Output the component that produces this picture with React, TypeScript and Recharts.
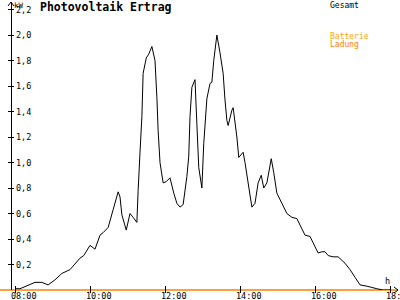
import { LineChart, Line, XAxis, YAxis, Legend, ReferenceLine } from 'recharts'

// minutes after 08:00 and total output in kW
const minutes = [
  0, 8, 32, 43, 53, 64, 75, 88, 104, 110, 120, 128, 136, 141, 149, 157, 165, 168, 171, 178,
  184, 189, 195, 197, 200, 203, 205, 210, 214, 219, 224, 227, 229, 232, 237, 242, 248, 254, 259, 264,
  269, 275, 278, 280, 283, 288, 291, 294, 299, 302, 307, 312, 315, 318, 323, 328, 333, 336, 339, 341,
  347, 349, 355, 358, 365, 368, 373, 379, 384, 389, 394, 398, 403, 410, 414, 419, 427, 435, 443, 451,
  456, 464, 472, 477, 485, 491, 496, 501, 509, 517, 528, 536, 544, 552, 563, 571, 579, 589, 600,
]
const gesamt = [
  0.01, 0.01, 0.06, 0.06, 0.04, 0.08, 0.13, 0.16, 0.25, 0.27, 0.35, 0.32, 0.43, 0.45, 0.49, 0.63, 0.77, 0.73, 0.59, 0.47,
  0.6, 0.57, 0.53, 0.78, 1.08, 1.36, 1.7, 1.82, 1.85, 1.91, 1.8, 1.51, 1.25, 1.0, 0.84, 0.85, 0.88, 0.76, 0.68, 0.65,
  0.67, 0.89, 1.05, 1.36, 1.59, 1.65, 1.3, 0.96, 0.8, 1.15, 1.5, 1.62, 1.63, 1.8, 2.0, 1.86, 1.7, 1.49, 1.33, 1.29,
  1.41, 1.43, 1.2, 1.04, 1.08, 1.0, 0.84, 0.65, 0.68, 0.84, 0.9, 0.8, 0.84, 1.03, 0.92, 0.76, 0.68, 0.6, 0.57, 0.56,
  0.51, 0.43, 0.42, 0.37, 0.29, 0.3, 0.3, 0.27, 0.26, 0.26, 0.21, 0.16, 0.1, 0.04, 0.03, 0.02, 0.01, 0.0, 0.0,
]

// battery charging stays at zero along the whole day
const ladungFrom = -24
const ladungTo = 613
const ladungValue = 0

const xTicks = [0, 120, 240, 360, 480, 600]
const xLabels = ['08:00', '10:00', '12:00', '14:00', '16:00', '18:00']
const yTicks = [0.2, 0.4, 0.6, 0.8, 1.0, 1.2, 1.4, 1.6, 1.8, 2.0, 2.2]

const legendItems = [
  { name: 'Gesamt', color: '#000000', gap: 0 },
  { name: 'Batterie', color: '#ffa500', gap: 23 },
  { name: 'Ladung', color: '#ff8000', gap: 0 },
]

const data = minutes.map((t, i) => ({ t, gesamt: gesamt[i] }))

const FONT = '"DejaVu Sans Mono", monospace'

const XTick = ({ x, y, payload }: any) => (
  <g>
    <line x1={x} x2={x} y1={y - 4} y2={y + 3} stroke="#000" shapeRendering="crispEdges" />
    <text x={x - 4} y={y + 9} fontSize={8.5} fontFamily={FONT} fill="#000">
      {xLabels[xTicks.indexOf(payload.value)]}
    </text>
  </g>
)

const YTick = ({ x, y, payload }: any) => (
  <g>
    <line x1={x - 3} x2={x + 3} y1={y} y2={y} stroke="#000" shapeRendering="crispEdges" />
    <text x={x + 5} y={y + 3} fontSize={8.5} fontFamily={FONT} fill="#000">
      {payload.value.toFixed(1).replace('.', ',')}
    </text>
  </g>
)

const YDecor = ({ viewBox }: any) => {
  const x = (viewBox?.x ?? 10) + (viewBox?.width ?? 1)
  const y = viewBox?.y ?? 2
  return (
    <g>
      <polyline points={`${x - 3},${y + 4} ${x},${y} ${x + 3},${y + 4}`} fill="none" stroke="#000" />
      <text x={x + 3} y={y + 6} fontSize={7.5} fontFamily={FONT} fill="#000">kW</text>
    </g>
  )
}

const XDecor = ({ viewBox }: any) => {
  const x = (viewBox?.x ?? 11) + (viewBox?.width ?? 387)
  const y = viewBox?.y ?? 290
  return (
    <g>
      <polyline points={`${x - 4},${y - 3} ${x},${y} ${x - 4},${y + 3}`} fill="none" stroke="#000" />
      <text x={x - 13} y={y - 6} fontSize={8.5} fontFamily={FONT} fill="#000">h</text>
    </g>
  )
}

const LegendBox = () => (
  <div style={{ fontFamily: FONT, fontSize: 8, lineHeight: '8px' }}>
    {legendItems.map((it) => (
      <div key={it.name} style={{ color: it.color, marginTop: it.gap }}>{it.name}</div>
    ))}
  </div>
)

export default function App() {
  return (
    <div style={{ position: 'absolute', left: 0, top: 0, width: 400, height: 300, background: '#fff' }}>
      <div
        style={{
          position: 'absolute', left: 40, top: 1, fontFamily: FONT, fontWeight: 'bold',
          fontSize: 11.5, lineHeight: '13px', color: '#000', zIndex: 2,
        }}
      >
        Photovoltaik Ertrag
      </div>
      <LineChart width={400} height={300} data={data} margin={{ top: 2, right: 2, left: 10, bottom: 9 }}>
        <XAxis
          dataKey="t"
          type="number"
          domain={[-6.4, 612.8]}
          ticks={xTicks}
          interval={0}
          height={1}
          tickSize={0}
          tickMargin={0}
          tickLine={false}
          axisLine={false}
          tick={<XTick />}
          label={<XDecor />}
          allowDataOverflow
        />
        <YAxis
          type="number"
          domain={[0, 2.259]}
          ticks={yTicks}
          interval={0}
          width={1}
          tickSize={0}
          tickMargin={0}
          tickLine={false}
          axisLine={{ stroke: '#000', shapeRendering: 'crispEdges' }}
          tick={<YTick />}
          label={<YDecor />}
          allowDataOverflow
        />
        <Legend
          layout="horizontal"
          verticalAlign="middle"
          align="center"
          wrapperStyle={{ position: 'absolute', top: 2, left: 330, width: 70 }}
          content={<LegendBox />}
        />
        <ReferenceLine
          segment={[{ x: ladungFrom, y: ladungValue }, { x: ladungTo, y: ladungValue }]}
          stroke="#ff8000"
          strokeWidth={1.5}
          ifOverflow="visible"
        />
        <Line
          type="linear"
          dataKey="gesamt"
          stroke="#000"
          strokeWidth={1}
          dot={false}
          isAnimationActive={false}
        />
      </LineChart>
    </div>
  )
}
